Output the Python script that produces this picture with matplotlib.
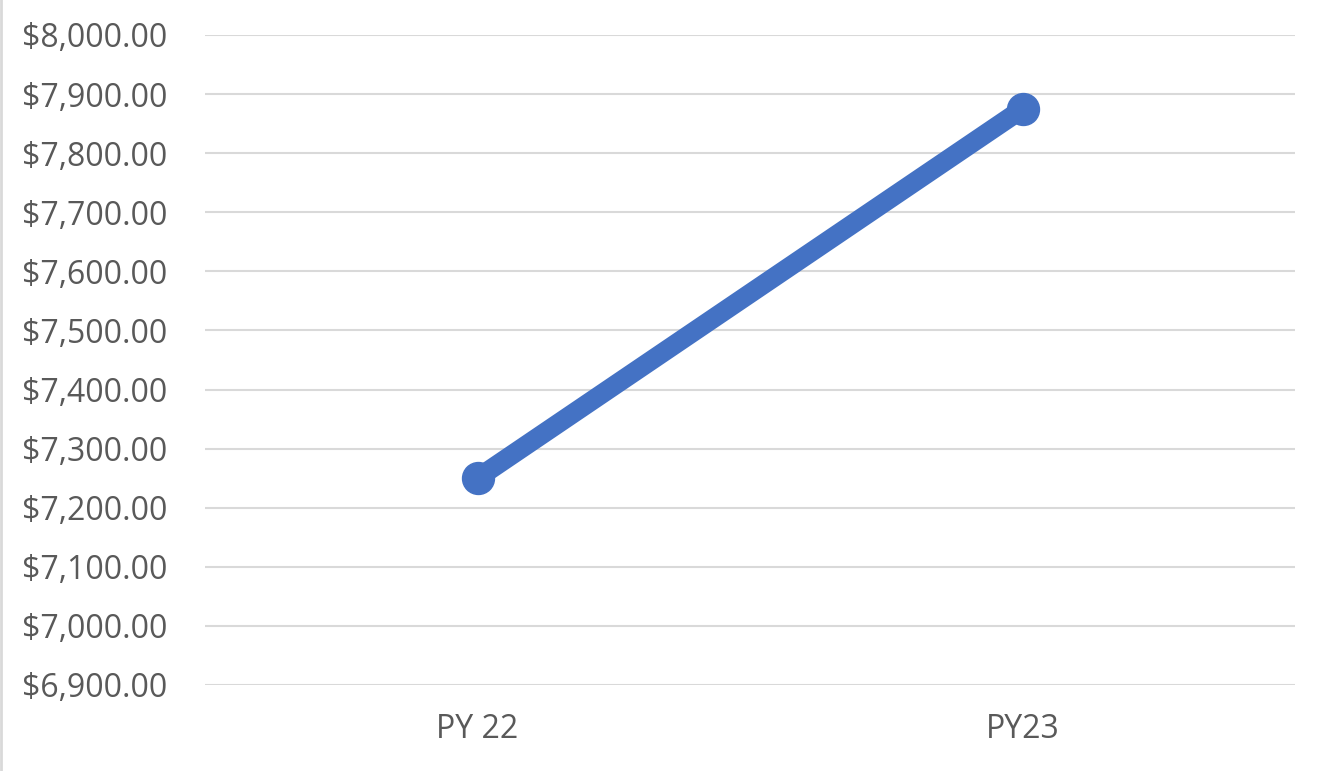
import matplotlib.pyplot as plt
from matplotlib.ticker import FuncFormatter, MultipleLocator
from matplotlib.lines import Line2D

# program year totals
years = ["PY 22", "PY23"]
totals = [7250, 7875]

plt.rcParams['font.family'] = ['Open Sans', 'DejaVu Sans']

fig = plt.figure(figsize=(13.28, 7.71), dpi=100)
ax = fig.add_axes([205 / 1328, 1 - 685 / 771, 1090 / 1328, 650 / 771])

x = range(len(years))
ax.plot(x, totals, color='#4472c4', lw=14, marker='o', markersize=23,
        solid_capstyle='round', zorder=3)

ax.set_xlim(-0.5, len(years) - 0.5)
ax.set_ylim(6900, 8000)
ax.yaxis.set_major_locator(MultipleLocator(100))
ax.yaxis.set_major_formatter(FuncFormatter(lambda v, p: f"${v:,.2f}"))
ax.set_xticks(list(x))
ax.set_xticklabels(years)

ax.grid(axis='y', color='#d9d9d9', lw=1.5)
ax.set_axisbelow(True)
for s in ax.spines.values():
    s.set_visible(False)
ax.tick_params(length=0, labelsize=23, labelcolor='#595959')
ax.tick_params(axis='y', pad=27)
ax.tick_params(axis='x', pad=20)

# thin border on the left edge of the chart area
fig.add_artist(Line2D([0.001, 0.001], [0, 1], color='#d9d9d9', lw=2,
                      transform=fig.transFigure))

fig.savefig("out.png", dpi=100)
